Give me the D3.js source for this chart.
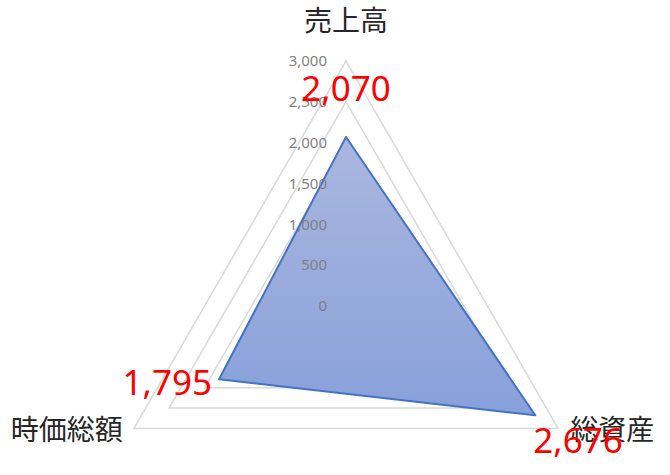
<!DOCTYPE html>
<html>
<head>
<meta charset="utf-8">
<script src="https://cdn.jsdelivr.net/npm/d3@7"></script>
<style>
  body { margin: 0; background: #fff; }
  svg { display: block; }
</style>
</head>
<body>
<script>
var width = 670,
    height = 475;

// data
var categories = ["売上高", "総資産", "時価総額"];
var values = [2070, 2676, 1795];
var ticks = [0, 500, 1000, 1500, 2000, 2500, 3000];

var cx = 346, cy = 306;
var latin = "'Noto Sans', 'Open Sans', sans-serif";
var cjk = "'Noto Sans CJK JP', sans-serif";

var svg = d3.select("body").append("svg")
    .attr("width", width)
    .attr("height", height);

var defs = svg.append("defs");
var grad = defs.append("linearGradient")
    .attr("id", "fillGrad")
    .attr("x1", 0).attr("y1", 0).attr("x2", 0).attr("y2", 1);
grad.append("stop").attr("offset", "0%").attr("stop-color", "#aab7df");
grad.append("stop").attr("offset", "100%").attr("stop-color", "#88a0da");

var r = d3.scaleLinear().domain([0, 3000]).range([0, 245]);
var angle = d3.scalePoint().domain(categories).range([0, 2 * Math.PI * 2 / 3]);

var g = svg.append("g").attr("transform", "translate(" + cx + "," + cy + ")");

function pt(cat, v) {
    var a = angle(cat) - Math.PI / 2;
    return [Math.cos(a) * r(v), Math.sin(a) * r(v)];
}

var radial = d3.lineRadial()
    .angle(function (d) { return angle(d.cat); })
    .radius(function (d) { return r(d.v); })
    .curve(d3.curveLinearClosed);

// grid rings
g.selectAll(".ring").data(ticks.slice(1))
    .enter().append("path")
    .attr("class", "ring")
    .attr("d", function (t) {
        return radial(categories.map(function (c) { return {cat: c, v: t}; }));
    })
    .attr("fill", "none")
    .attr("stroke", "#d9d9d9")
    .attr("stroke-width", 1.5);

// series
var series = categories.map(function (c, i) { return {cat: c, v: values[i]}; });
g.append("path")
    .attr("d", radial(series))
    .attr("fill", "url(#fillGrad)")
    .attr("stroke", "#4472c4")
    .attr("stroke-width", 2)
    .attr("stroke-linejoin", "round");

// tick labels
g.selectAll(".tick").data(ticks)
    .enter().append("text")
    .attr("x", -19)
    .attr("y", function (t) { return -r(t); })
    .attr("dy", "0.35em")
    .attr("text-anchor", "end")
    .style("font-family", latin)
    .style("font-size", "15px")
    .style("fill", "#7f7f7f")
    .text(function (t) { return d3.format(",")(t); });

// category labels
var catOff = [[0, -30, "middle"], [12, 11, "start"], [-11, 11, "end"]];
g.selectAll(".cat").data(categories)
    .enter().append("text")
    .attr("x", function (c, i) { return pt(c, 3000)[0] + catOff[i][0]; })
    .attr("y", function (c, i) { return pt(c, 3000)[1] + catOff[i][1]; })
    .attr("text-anchor", function (c, i) { return catOff[i][2]; })
    .style("font-family", cjk)
    .style("font-size", "28px")
    .style("fill", "#262626")
    .text(function (c) { return c; });

// data labels
var labOff = [[0, -36, "middle"], [-2, 38, "start"], [-7, 16, "end"]];
g.selectAll(".val").data(series)
    .enter().append("text")
    .attr("x", function (d, i) { return pt(d.cat, d.v)[0] + labOff[i][0]; })
    .attr("y", function (d, i) { return pt(d.cat, d.v)[1] + labOff[i][1]; })
    .attr("text-anchor", function (d, i) { return labOff[i][2]; })
    .style("font-family", latin)
    .style("font-size", "35px")
    .style("fill", "#ff0000")
    .text(function (d) { return d3.format(",")(d.v); });
</script>
</body>
</html>
